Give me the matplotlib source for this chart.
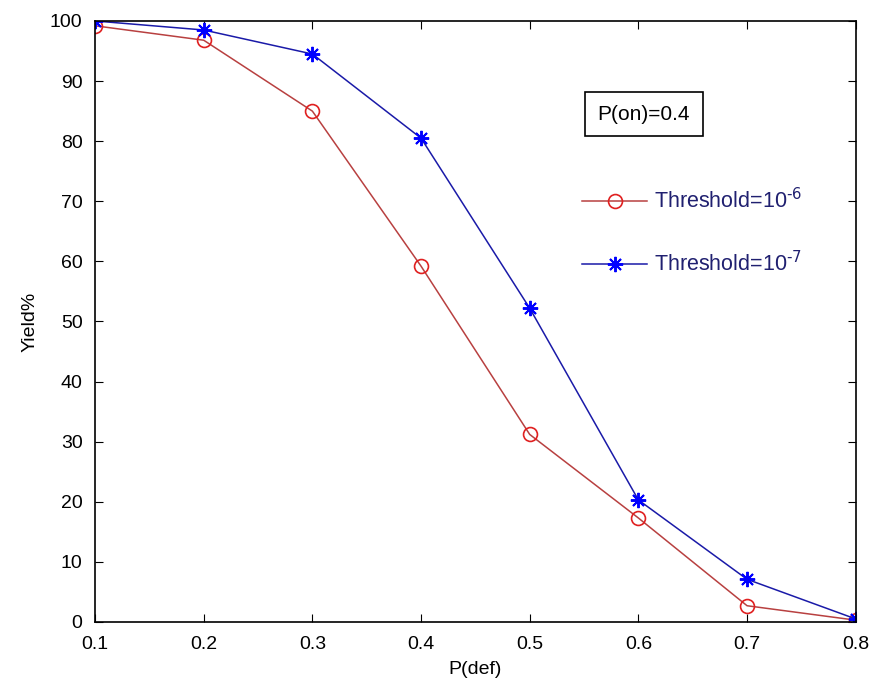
import matplotlib.pyplot as plt
import numpy as np

plt.rcParams['font.family'] = ['Liberation Sans', 'DejaVu Sans']

p_def = [0.1, 0.2, 0.3, 0.4, 0.5, 0.6, 0.7, 0.8]
yield_1e6 = [99.2, 96.8, 85.0, 59.2, 31.2, 17.3, 2.7, 0.3]
yield_1e7 = [100.0, 98.5, 94.5, 80.5, 52.2, 20.3, 7.1, 0.5]
x_ticks = [0.1, 0.2, 0.3, 0.4, 0.5, 0.6, 0.7, 0.8]
y_ticks = [0, 10, 20, 30, 40, 50, 60, 70, 80, 90, 100]

fig = plt.figure(figsize=(8.75, 6.9), dpi=100)
ax = fig.add_axes([0.1086, 0.0986, 0.8694, 0.871])

ax.plot(p_def, yield_1e6, '-o', color='#b84040', mec='#e02020', mfc='none',
        ms=10, mew=1.2, lw=1.1, label='Threshold=10$^{\\text{-6}}$')
ax.plot(p_def, yield_1e7, '-', marker=(8, 2, 0), color='#1a1aa8', mec='#0000ff',
        ms=11, mew=1.4, lw=1.1, label='Threshold=10$^{\\text{-7}}$')

ax.set_xlim(0.1, 0.8)
ax.set_ylim(0, 100)
ax.set_xticks(x_ticks)
ax.set_xticklabels([str(v) for v in x_ticks])
ax.set_yticks(y_ticks)
ax.tick_params(direction='in', top=True, right=True, labelsize=14, length=6)
ax.tick_params(axis='x', pad=10)
ax.tick_params(axis='y', pad=9)
for s in ax.spines.values():
    s.set_linewidth(1.2)

ax.set_xlabel('P(def)', fontsize=14, labelpad=6)
ax.set_ylabel('Yield%', fontsize=14, labelpad=8)

ax.text(0.605, 84.5, 'P(on)=0.4', fontsize=15, ha='center', va='center',
        bbox=dict(boxstyle='square,pad=0.6', fc='white', ec='black', lw=1.2))

leg = ax.legend(loc='upper left', bbox_to_anchor=(0.615, 0.754), frameon=False,
                fontsize=15.5, labelspacing=1.75, handlelength=3.0, handletextpad=0.35)
for t in leg.get_texts():
    t.set_color('#202070')

fig.savefig('out.png', dpi=100)
